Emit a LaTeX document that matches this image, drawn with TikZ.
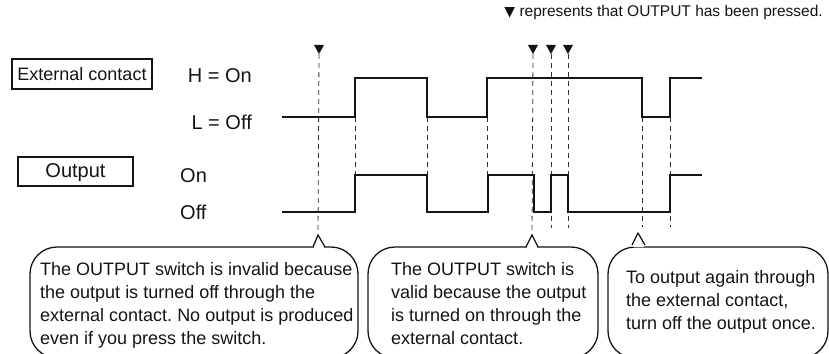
\documentclass[tikz,border=0pt]{standalone}
\usepackage{fontspec}
\usetikzlibrary{calc}
\setmainfont{Liberation Sans}
\newfontfamily\symfont{DejaVu Sans}
\frenchspacing
\begin{document}
\begin{tikzpicture}[x=1pt,y=-1pt,
  wave/.style={line width=2.9pt, black!92, line join=miter},
  guide/.style={line width=0.8pt, black!80, dash pattern=on 5pt off 4pt},
  lbl/.style={inner sep=0pt, font=\fontsize{20pt}{24pt}\selectfont, text=black!92},
  framebox/.style={draw=black!92, line width=1.3pt, inner sep=0pt, text height=12.9pt, text depth=0pt, text=black!92},
  callbox/.style={draw=black!92, line width=1.3pt, rounded corners=27pt, inner sep=0pt},
  note/.style={inner sep=0pt, align=left, font=\fontsize{18pt}{23pt}\selectfont\frenchspacing, anchor=north west, text=black!92},
  press/.style={fill=black!92},
]
\useasboundingbox (0,0) rectangle (829,353);
\clip (0,0) rectangle (829,353);

% legend
\node[inner sep=0pt, font=\fontsize{15.5pt}{18pt}\selectfont, text=black!92, anchor=base east] (legend) at (823,17)
  {{\symfont\fontsize{14pt}{14pt}\selectfont ▼} represents that OUTPUT has been pressed.};

% signal name boxes
\node[framebox, font=\fontsize{18pt}{22pt}\selectfont, minimum width=140pt, minimum height=30pt] (ext) at (82,74) {External contact};
\node[framebox, font=\fontsize{20pt}{24pt}\selectfont, minimum width=115pt, minimum height=29pt] (out) at (75.5,171.5) {Output};

% level labels
\node[lbl, anchor=base east] (hon) at (252,82) {H = On};
\node[lbl, anchor=base east] (loff) at (252,129) {L = Off};
\node[lbl, anchor=base west] (on) at (180,182) {On};
\node[lbl, anchor=base west] (off) at (180,219) {Off};

% press marks
\coordinate (p1) at (319,54);
\coordinate (p2) at (533,54);
\coordinate (p3) at (551,54);
\coordinate (p4) at (568,54);
\foreach \p in {p1,p2,p3,p4}
  \fill[press] (\p) -- ++(-5,-9) -- ++(10,0) -- cycle;

% callout tips
\coordinate (t1) at (318,235);
\coordinate (t2) at (532,235);
\coordinate (t3) at (638,233);

% guide lines
\draw[guide] (p1) -- (t1);
\draw[guide] (p2) -- (t2);
\draw[guide] (p3) -- (551,228);
\draw[guide] (p4) -- (568,228);
\draw[guide] (355,117) -- (355,175);
\draw[guide] (427,117) -- (427,175);
\draw[guide] (487,117) -- (487,175);
\draw[guide] (642,117) -- (642,227);
\draw[guide] (670,117) -- (670,227);

% waveforms
\draw[wave] (282,117) -- (355,117) -- (355,78) -- (427,78) -- (427,117) -- (487,117) -- (487,78)
  -- (642,78) -- (642,117) -- (670,117) -- (670,78) -- (702,78);
\draw[wave] (282,212) -- (355,212) -- (355,175) -- (427,175) -- (427,212) -- (488,212) -- (488,175)
  -- (534,175) -- (534,212) -- (551,212) -- (551,175) -- (568,175) -- (568,212) -- (670,212)
  -- (670,175) -- (702,175);

% callouts
\node[callbox, minimum width=328pt, minimum height=111pt] (c1) at (194,302.5) {};
\node[callbox, minimum width=230pt, minimum height=111pt] (c2) at (483,302.5) {};
\node[callbox, minimum width=220pt, minimum height=111pt] (c3) at (718,302.5) {};
\foreach \t/\a/\b in {t1/-5/7, t2/-6/6, t3/-6/7}{
  \fill[white] ($(\t)+(\a+0.7,11.0)$) rectangle ($(\t)+(\b-0.7,13.8)$);
  \draw[black!92, line width=1.3pt, line join=round] ($(\t)+(\a,12)$) -- (\t) -- ($(\t)+(\b,12)$);
}

\node[note] (n1) at (40,262) {The OUTPUT switch is invalid because\\the output is turned off through the\\external contact. No output is produced\\even if you press the switch.};
\node[note] (n2) at (391,262) {The OUTPUT switch is\\valid because the output\\is turned on through the\\external contact.};
\node[note] (n3) at (626,270) {To output again through\\the external contact,\\turn off the output once.};
\end{tikzpicture}
\end{document}
